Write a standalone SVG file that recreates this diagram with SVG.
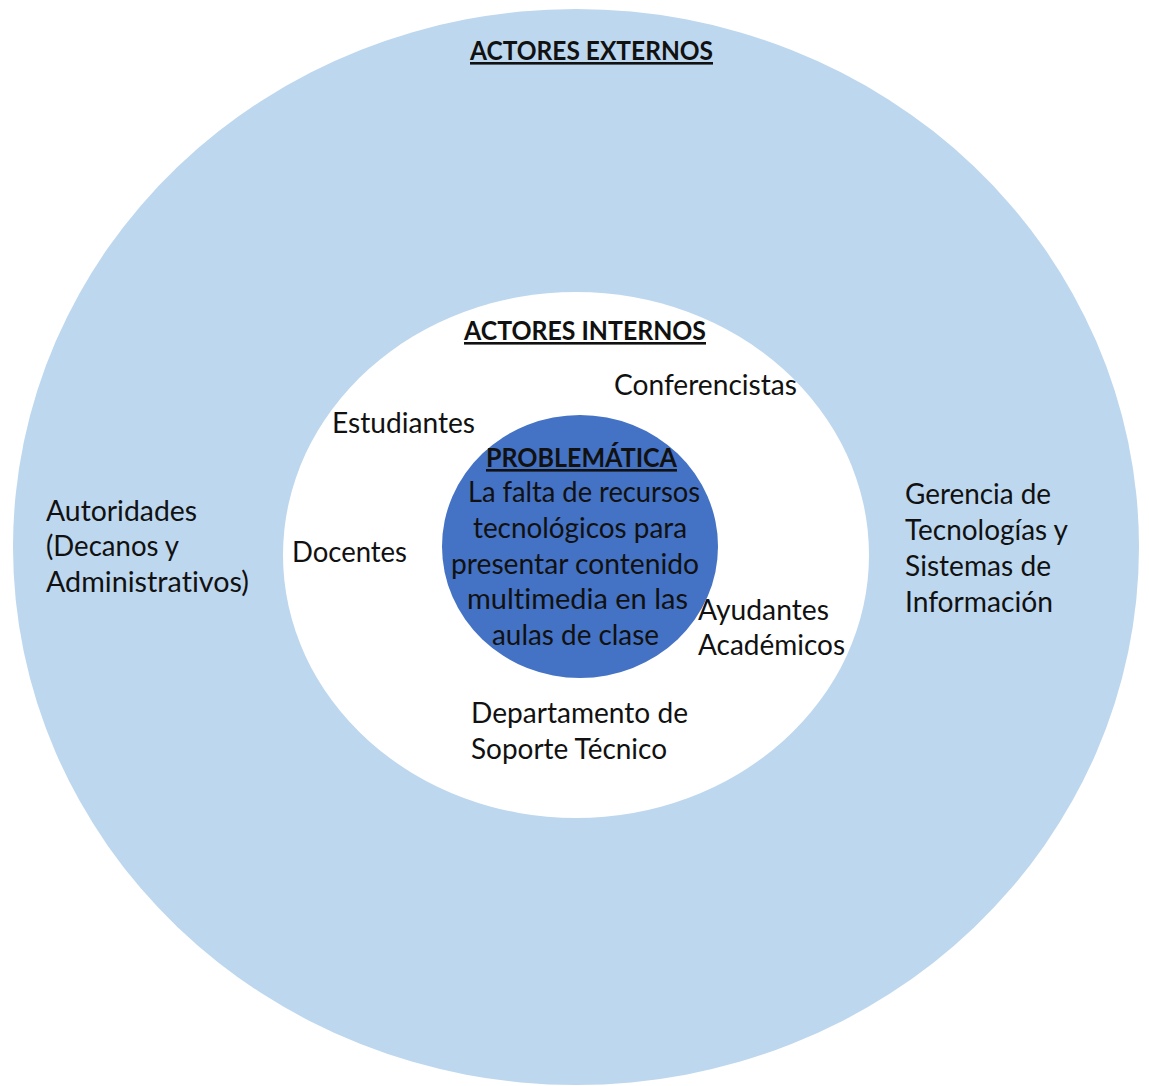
<svg xmlns="http://www.w3.org/2000/svg" width="1149" height="1086" viewBox="0 0 1149 1086">
<style>
.t{font-family:Lato,"Open Sans","Liberation Sans",sans-serif;font-size:28px;fill:#111;font-variant-ligatures:none;}
.b{font-size:26px;font-weight:bold;text-decoration:underline;}
</style>
<rect width="1149" height="1086" fill="#ffffff"/>
<g id="externos">
<ellipse cx="576" cy="547" rx="563" ry="538" fill="#BDD7EE"/>
<text class="t b" x="470" y="60" textLength="243" lengthAdjust="spacingAndGlyphs">ACTORES EXTERNOS</text>
<text class="t" x="46" y="521" textLength="151" lengthAdjust="spacingAndGlyphs">Autoridades</text>
<text class="t" x="46" y="556" textLength="133" lengthAdjust="spacingAndGlyphs">(Decanos y</text>
<text class="t" x="46" y="592" textLength="203" lengthAdjust="spacingAndGlyphs">Administrativos)</text>
<text class="t" x="905" y="504" textLength="146" lengthAdjust="spacingAndGlyphs">Gerencia de</text>
<text class="t" x="905" y="540" textLength="163" lengthAdjust="spacingAndGlyphs">Tecnologías y</text>
<text class="t" x="905" y="576" textLength="146" lengthAdjust="spacingAndGlyphs">Sistemas de</text>
<text class="t" x="905" y="612" textLength="148" lengthAdjust="spacingAndGlyphs">Información</text>
</g>
<g id="internos">
<ellipse cx="576" cy="555" rx="293" ry="263" fill="#ffffff"/>
<text class="t b" x="464" y="340" textLength="242" lengthAdjust="spacingAndGlyphs">ACTORES INTERNOS</text>
<text class="t" x="614" y="395" textLength="183" lengthAdjust="spacingAndGlyphs">Conferencistas</text>
<text class="t" x="332" y="433" textLength="143" lengthAdjust="spacingAndGlyphs">Estudiantes</text>
<text class="t" x="292" y="562" textLength="115" lengthAdjust="spacingAndGlyphs">Docentes</text>
<text class="t" x="698" y="620" textLength="131" lengthAdjust="spacingAndGlyphs">Ayudantes</text>
<text class="t" x="698" y="655" textLength="147" lengthAdjust="spacingAndGlyphs">Académicos</text>
<text class="t" x="471" y="723" textLength="217" lengthAdjust="spacingAndGlyphs">Departamento de</text>
<text class="t" x="471" y="759" textLength="196" lengthAdjust="spacingAndGlyphs">Soporte Técnico</text>
</g>
<g id="problematica">
<ellipse cx="580" cy="546.5" rx="138" ry="131.5" fill="#4472C4"/>
<text class="t b" x="486" y="467" textLength="191" lengthAdjust="spacingAndGlyphs">PROBLEMÁTICA</text>
<text class="t" x="468" y="502" textLength="232" lengthAdjust="spacingAndGlyphs">La falta de recursos</text>
<text class="t" x="473" y="538" textLength="214" lengthAdjust="spacingAndGlyphs">tecnológicos para</text>
<text class="t" x="451" y="574" textLength="248" lengthAdjust="spacingAndGlyphs">presentar contenido</text>
<text class="t" x="467" y="609" textLength="221" lengthAdjust="spacingAndGlyphs">multimedia en las</text>
<text class="t" x="492" y="645" textLength="167" lengthAdjust="spacingAndGlyphs">aulas de clase</text>
</g>
</svg>
